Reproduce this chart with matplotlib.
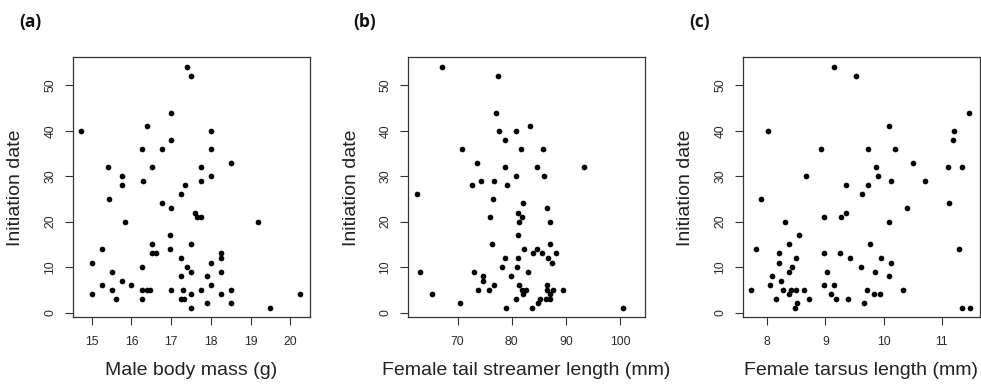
import matplotlib
matplotlib.use('Agg')
import matplotlib.pyplot as plt

# Male body mass (g) vs initiation date
mass = [14.74, 17.40, 17.50, 17.00, 16.39, 18.00, 17.00, 16.26, 16.78, 18.00,
        18.51, 15.41, 16.52, 17.75, 15.75, 18.00, 15.75, 16.30, 17.75, 17.34,
        17.24, 15.44, 16.78, 17.00, 17.59, 17.66, 17.76, 15.85, 19.20, 16.96,
        16.52, 17.50, 15.25, 16.96, 16.52, 16.62, 18.26, 18.26, 17.24, 15.00,
        18.00, 16.26, 17.40, 15.50, 17.50, 18.26, 15.75, 17.24, 17.91, 15.25,
        16.00, 18.00, 15.50, 16.26, 16.39, 16.47, 17.00, 17.30, 17.75, 18.51,
        15.00, 17.50, 18.26, 20.25, 15.60, 16.26, 17.24, 17.32, 17.91, 18.51,
        17.50, 19.49]
date_a = [40, 54, 52, 44, 41, 40, 38, 36, 36, 36,
          33, 32, 32, 32, 30, 30, 28, 29, 29, 28,
          26, 25, 24, 23, 22, 21, 21, 20, 20, 17,
          15, 15, 14, 14, 13, 13, 13, 12, 12, 11,
          11, 10, 10, 9, 9, 9, 7, 8, 8, 6,
          6, 6, 5, 5, 5, 5, 5, 5, 5, 5,
          4, 4, 4, 4, 3, 3, 3, 3, 2, 2,
          1, 1]

# Female tail streamer length (mm)
tail = [67.05, 77.50, 77.07, 77.68, 80.76, 83.34, 78.67, 70.74, 81.68, 85.80,
        73.56, 78.67, 84.69, 93.29, 80.76, 86.04, 74.24, 76.82, 72.64, 79.10,
        62.44, 76.58, 82.17, 86.53, 81.19, 76.08, 81.92, 81.43, 87.03, 81.19,
        76.33, 87.03, 82.35, 84.69, 84.01, 85.61, 88.19, 78.67, 81.19, 86.78,
        87.40, 63.12, 73.07, 83.09, 78.17, 81.00, 74.73, 79.83, 74.73, 76.82,
        81.43, 86.53, 73.75, 75.90, 81.92, 82.60, 86.53, 87.64, 89.55, 65.21,
        82.17, 87.15, 80.76, 85.18, 86.40, 87.15, 70.49, 84.94, 78.91, 83.77,
        100.50]
date_b = [54, 52, 44, 40, 40, 41, 38, 36, 36, 36,
          33, 32, 32, 32, 30, 30, 29, 29, 28, 28,
          26, 25, 24, 23, 22, 21, 21, 20, 20, 17,
          15, 15, 14, 14, 13, 13, 13, 12, 12, 12,
          11, 9, 9, 9, 10, 10, 8, 8, 7, 6,
          6, 6, 5, 5, 5, 5, 5, 5, 5, 4,
          4, 4, 3, 3, 3, 3, 2, 2, 1, 1,
          1]

# Female tarsus length (mm)
tarsus = [9.14, 9.52, 11.47, 10.09, 8.02, 11.21, 11.19, 8.92, 9.74, 10.19,
          10.50, 9.87, 11.10, 11.34, 8.66, 9.91, 10.13, 10.71, 9.35, 9.74,
          9.63, 7.89, 11.13, 10.41, 9.35, 8.97, 9.27, 8.30, 10.09, 8.55,
          8.38, 9.77, 7.80, 11.30, 8.21, 8.97, 9.25, 8.49, 9.42, 9.96,
          8.21, 10.13, 9.61, 8.43, 8.38, 9.03, 9.85, 8.08, 10.09, 8.23,
          8.05, 8.97, 9.14, 7.73, 8.27, 8.41, 8.50, 8.64, 9.72, 10.33,
          8.38, 9.10, 9.84, 9.94, 8.15, 8.71, 9.18, 9.38, 8.51, 9.66,
          8.47, 11.34, 11.49]
date_c = [54, 52, 44, 41, 40, 40, 38, 36, 36, 36,
          33, 32, 32, 32, 30, 30, 29, 29, 28, 28,
          26, 25, 24, 23, 22, 21, 21, 20, 20, 17,
          15, 15, 14, 14, 13, 13, 13, 12, 12, 12,
          11, 11, 10, 10, 9, 9, 9, 8, 8, 7,
          6, 6, 6, 5, 5, 5, 5, 5, 5, 5,
          4, 4, 4, 4, 3, 3, 3, 3, 2, 2,
          1, 1, 1]

panels = ['(a)', '(b)', '(c)']
xlabels = ['Male body mass (g)', 'Female tail streamer length (mm)', 'Female tarsus length (mm)']
xticks = [[15, 16, 17, 18, 19, 20], [70, 80, 90, 100], [8, 9, 10, 11]]
xlims = [(14.52, 20.49), (60.8, 104.55), (7.58, 11.65)]
yticks = [0, 10, 20, 30, 40, 50]

plt.rcParams['font.family'] = ['Liberation Sans', 'DejaVu Sans']

fig = plt.figure(figsize=(9.81, 3.85), dpi=100)
W, H = 981.0, 385.0
lefts = [72.7, 407.7, 742.7]
top, bottom = 57.3, 317.3
width = 237.0

data = [(mass, date_a), (tail, date_b), (tarsus, date_c)]
tick_col = '#2a2a2a'

for i in range(3):
    ax = fig.add_axes([lefts[i] / W, 1 - bottom / H, width / W, (bottom - top) / H])
    x, y = data[i]
    ax.plot(x, y, 'o', color='black', markersize=4.1, markeredgewidth=0)
    ax.set_xlim(*xlims[i])
    ax.set_ylim(-1.05, 56.15)
    ax.set_xticks(xticks[i])
    ax.set_yticks(yticks)
    ax.set_yticklabels([str(v) for v in yticks], rotation=90, va='center')
    for s in ax.spines.values():
        s.set_linewidth(0.9)
        s.set_color('#333333')
    ax.tick_params(axis='both', length=5.8, width=0.8, color='#333333',
                   labelsize=8.8, labelcolor=tick_col)
    ax.tick_params(axis='x', pad=7.5)
    ax.tick_params(axis='y', pad=6.0)

    ax.set_xlabel(xlabels[i], fontsize=14, color='#222222')
    ax.xaxis.set_label_coords(0.5, -53.4 / (bottom - top))
    ax.xaxis.label.set_verticalalignment('center')
    ax.set_ylabel('Initiation date', fontsize=14, color='#222222')
    ax.yaxis.set_label_coords(-56.7 / width, 0.5)
    ax.yaxis.label.set_verticalalignment('center')

    fig.text((30 + 335 * i) / W, 1 - 22 / H, panels[i], fontsize=12.5,
             fontweight='bold', family=['Open Sans', 'DejaVu Sans'],
             ha='center', va='center', color='#111111')

fig.savefig('out.png', dpi=100, facecolor='white')
